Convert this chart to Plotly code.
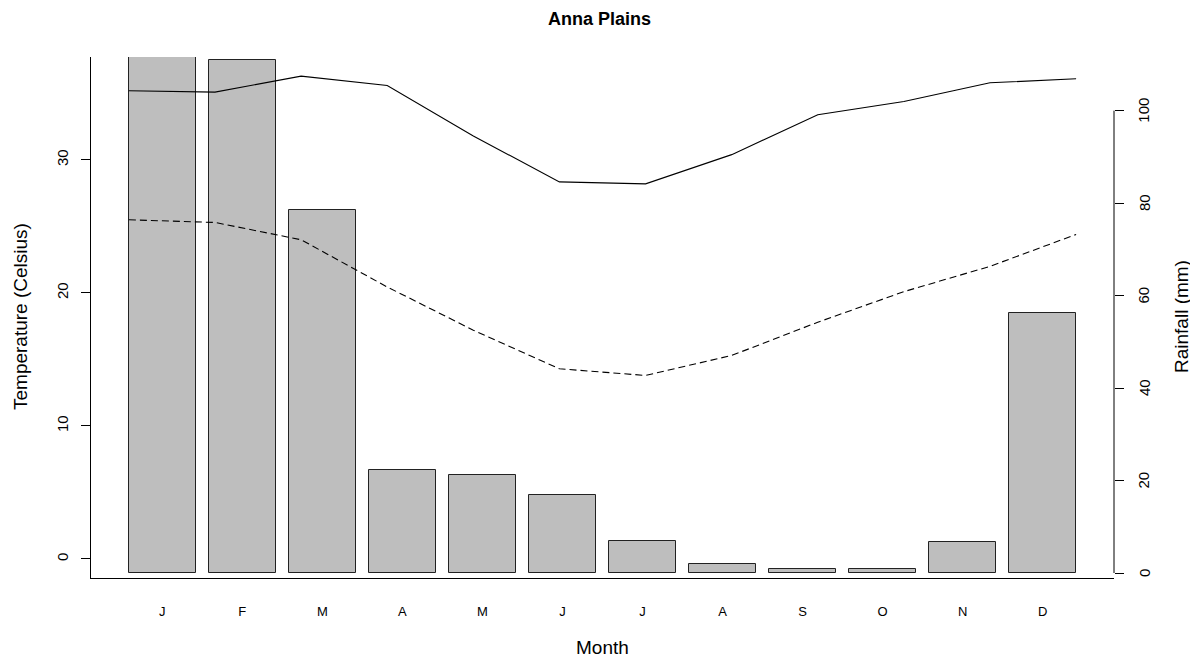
import plotly.graph_objects as go

# ---- data ----
months = ["J", "F", "M", "A", "M", "J", "J", "A", "S", "O", "N", "D"]
month_num = list(range(1, 13))
rainfall = [112.0, 111.0, 78.5, 22.3, 21.2, 16.9, 6.9, 1.9, 0.8, 0.8, 6.6, 56.2]
tmax = [35.2, 35.1, 36.3, 35.6, 31.8, 28.35, 28.2, 30.4, 33.4, 34.4, 35.8, 36.1]
tmin = [25.5, 25.3, 24.0, 20.45, 17.2, 14.3, 13.8, 15.3, 17.8, 20.1, 22.0, 24.4]
temp_ticks = [0, 10, 20, 30]
rain_ticks = [0, 20, 40, 60, 80, 100]

FONT = "Liberation Sans, Arial, Helvetica, sans-serif"
bar_idx = list(range(len(months)))

fig = go.Figure()
fig.add_trace(go.Bar(
    x=bar_idx, y=rainfall, width=1 / 1.2,
    marker=dict(color="#BEBEBE", line=dict(color="#222222", width=1)),
    xaxis="x", yaxis="y", showlegend=False, hoverinfo="y",
))
fig.add_trace(go.Scatter(
    x=month_num, y=tmax, mode="lines",
    line=dict(color="black", width=1.1),
    xaxis="x2", yaxis="y2", showlegend=False,
))
fig.add_trace(go.Scatter(
    x=month_num, y=tmin, mode="lines",
    line=dict(color="black", width=1.1, dash="7px,4px"),
    xaxis="x2", yaxis="y2", showlegend=False,
))

# page body has an 8px margin; work in screen pixels and shift
OFF = 8
W, H = 1198 - OFF, 659 - OFF
L, T = 91 - OFF, 57 - OFF
R = W - (1114 - OFF)
B = H - (578 - OFF)
pw, ph = W - L - R, H - T - B

def px_x(px):
    return (px - OFF - L) / pw

def px_y(py):
    return (H - B - (py - OFF)) / ph

# right-axis tick labels (rotated, placed like R's axis(4))
rain_labels = [
    dict(text=str(v), xref="paper", yref="y", x=px_x(1144), y=v,
         showarrow=False, textangle=-90, xanchor="center", yanchor="middle",
         font=dict(size=15, family=FONT))
    for v in rain_ticks
]

fig.update_layout(
    width=W, height=H,
    margin=dict(l=L, r=R, t=T, b=B, pad=0),
    paper_bgcolor="white", plot_bgcolor="white",
    font=dict(family=FONT, color="black"),
    bargap=0,
    xaxis=dict(
        range=[-0.89, 11.89], tickmode="array", tickvals=bar_idx, ticktext=months,
        showgrid=False, zeroline=False, showline=True, linecolor="black", linewidth=1,
        ticks="outside", ticklen=21, tickcolor="rgba(0,0,0,0)",
        tickfont=dict(size=13, family=FONT), fixedrange=True, automargin=False,
    ),
    yaxis=dict(
        range=[-1.08, 111.6], side="right", tickmode="array", tickvals=rain_ticks,
        showgrid=False, zeroline=False, showline=False, showticklabels=False,
        ticks="outside", ticklen=9, tickcolor="black", tickwidth=1,
        automargin=False,
    ),
    xaxis2=dict(
        range=[0.56, 12.44], overlaying="x", visible=False,
    ),
    yaxis2=dict(
        range=[-1.43, 37.74], overlaying="y", side="left",
        tickmode="array", tickvals=temp_ticks,
        showgrid=False, zeroline=False, showline=True, linecolor="black", linewidth=1,
        ticks="outside", ticklen=9, tickcolor="black", tickwidth=1,
        tickangle=-90, ticklabelstandoff=7,
        tickfont=dict(size=15, family=FONT), automargin=False,
    ),
    shapes=[dict(
        type="line", xref="paper", yref="y", x0=1, x1=1,
        y0=min(rain_ticks), y1=max(rain_ticks),
        line=dict(color="black", width=1),
    )],
    annotations=rain_labels + [
        dict(text="<b>Anna Plains</b>", xref="paper", yref="paper",
             x=px_x(599), y=px_y(19), showarrow=False,
             xanchor="center", yanchor="middle", font=dict(size=18, family=FONT)),
        dict(text="Month", xref="paper", yref="paper",
             x=px_x(602), y=px_y(647), showarrow=False,
             xanchor="center", yanchor="middle", font=dict(size=19, family=FONT)),
        dict(text="Temperature (Celsius)", xref="paper", yref="paper",
             x=px_x(20), y=px_y(317), showarrow=False, textangle=-90,
             xanchor="center", yanchor="middle", font=dict(size=19, family=FONT)),
        dict(text="Rainfall (mm)", xref="paper", yref="paper",
             x=px_x(1181), y=px_y(317), showarrow=False, textangle=-90,
             xanchor="center", yanchor="middle", font=dict(size=19, family=FONT)),
    ],
)

fig.write_html("out.html")
